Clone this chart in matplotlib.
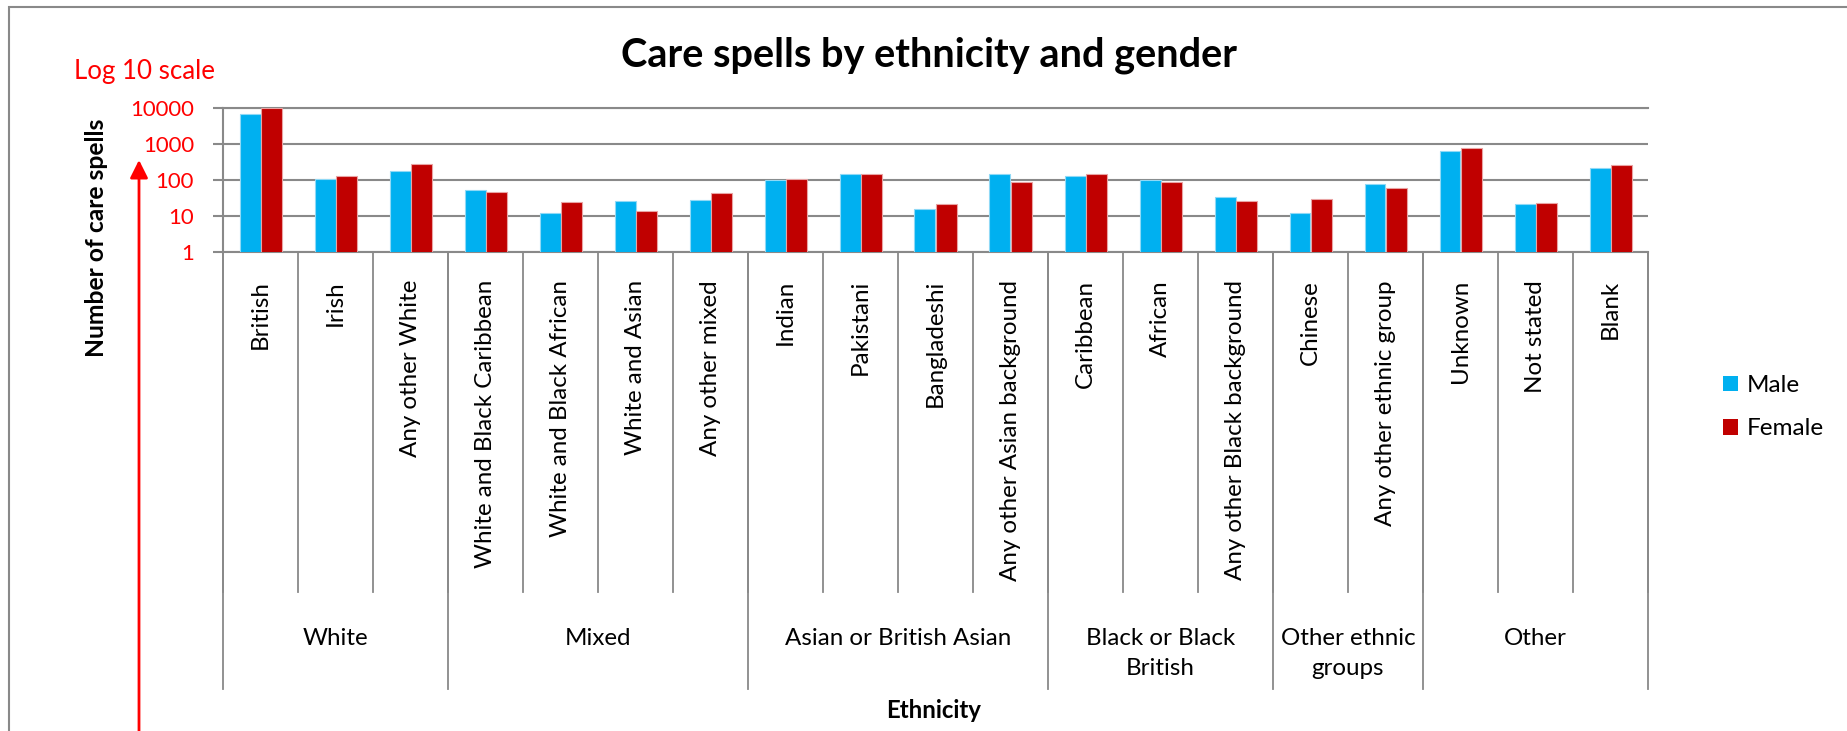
import matplotlib.pyplot as plt
import numpy as np
from matplotlib.patches import Rectangle, Patch

# data (log scale)
categories = ['British', 'Irish', 'Any other White',
              'White and Black Caribbean', 'White and Black African', 'White and Asian', 'Any other mixed',
              'Indian', 'Pakistani', 'Bangladeshi', 'Any other Asian background',
              'Caribbean', 'African', 'Any other Black background',
              'Chinese', 'Any other ethnic group',
              'Unknown', 'Not stated', 'Blank']
male = [6800, 104, 181, 52, 12, 26, 28, 100, 144, 16, 144, 129, 102, 34, 12, 77, 621, 21, 215]
female = [9800, 126, 271, 46, 24, 14, 44, 107, 147, 21, 90, 144, 90, 26, 29, 59, 783, 23, 266]
groups = ['White', 'Mixed', 'Asian or British Asian', 'Black or Black\nBritish', 'Other ethnic\ngroups', 'Other']
group_sizes = [3, 4, 4, 3, 2, 3]

W, H = 1847, 731
blue = '#00B0F0'
red = '#C00000'
grey = '#898989'
plt.rcParams['font.family'] = ['Lato', 'DejaVu Sans']

fig = plt.figure(figsize=(W / 100, H / 100), dpi=100)
# plot area in pixels: x 223..1648, y 108..252
ax = fig.add_axes([223 / W, 1 - 252 / H, 1425 / W, 144 / H])


def ay(py):
    # pixel row -> axes fraction
    return (252 - py) / 144


x = np.arange(len(categories))
bw = 0.28
ax.bar(x - bw / 2, male, bw, color=blue, edgecolor='#8fd9f6', linewidth=0.8, zorder=3)
ax.bar(x + bw / 2, female, bw, color=red, edgecolor='#e9a3a3', linewidth=0.8, zorder=3)
ax.set_yscale('log')
ax.set_ylim(1, 10000)
ax.set_xlim(-0.5, len(categories) - 0.5)

ax.set_yticks([1, 10, 100, 1000, 10000])
ax.set_yticklabels(['1', '10', '100', '1000', '10000'])
ax.yaxis.set_minor_locator(plt.NullLocator())
ax.tick_params(axis='y', length=7, width=1.5, color=grey, pad=14, labelsize=16, labelcolor='red')
ax.set_xticks([])
ax.grid(axis='y', color=grey, linewidth=1.5, zorder=0)
ax.set_axisbelow(True)
for s in ['left', 'bottom', 'top']:
    ax.spines[s].set_color(grey)
    ax.spines[s].set_linewidth(1.5)
ax.spines['right'].set_visible(False)

tr = ax.get_xaxis_transform()
# category labels and separators
cat_texts = []
for i, c in enumerate(categories):
    cat_texts.append(ax.text(i, ay(280), c, rotation=90, ha='center', va='top', fontsize=16, transform=tr))
for b in range(len(categories) + 1):
    ax.plot([b - 0.5, b - 0.5], [0, ay(592)], color=grey, lw=1.3, transform=tr, clip_on=False)

# group labels and separators
edges = np.concatenate([[0], np.cumsum(group_sizes)])
for e in edges:
    ax.plot([e - 0.5, e - 0.5], [0, ay(689)], color=grey, lw=1.3, transform=tr, clip_on=False)
grp_texts = []
for g, a, b in zip(groups, edges[:-1], edges[1:]):
    grp_texts.append(ax.text((a + b - 1) / 2, ay(628), g, ha='center', va='top', fontsize=16,
                             linespacing=1.55, transform=tr))

title = fig.text(929 / W, 1 - 55 / H, 'Care spells by ethnicity and gender', ha='center', va='center',
                 fontsize=24, fontweight='bold')
xlab = fig.text(934 / W, 1 - 710 / H, 'Ethnicity', ha='center', va='center', fontsize=15, fontweight='bold')
ylab = fig.text(96 / W, 1 - 238 / H, 'Number of care spells', ha='center', va='center', rotation=90,
                fontsize=16, fontweight='bold')
logt = fig.text(145 / W, 1 - 72 / H, 'Log 10 scale', ha='center', va='center', fontsize=17, color='red')

# red arrow pointing up along the y axis
ax.annotate('', xy=(139, H - 160), xytext=(139, -10), xycoords='figure pixels',
            textcoords='figure pixels',
            arrowprops=dict(arrowstyle='-|>,head_length=0.6,head_width=0.3', color='red',
                            lw=2, mutation_scale=18, shrinkA=0, shrinkB=0))

handles = [Patch(facecolor=blue, label='Male'), Patch(facecolor=red, label='Female')]
leg = fig.legend(handles=handles, loc='center left', bbox_to_anchor=(1723 / W, 1 - 407 / H),
                 frameon=False, fontsize=17, handlelength=0.64, handleheight=0.64,
                 handletextpad=0.35, labelspacing=0.95, borderpad=0, borderaxespad=0)

# outer chart border, cut by the image edge
fig.add_artist(Rectangle((9 / W, -0.2), 2, 1 - 7 / H + 0.2, transform=fig.transFigure,
                         fill=False, edgecolor=grey, lw=1.5))

# size the Lato text so it takes the same room as the Calibri text of the original
fig.canvas.draw()
r = fig.canvas.get_renderer()


def scale(t, target, vertical=False):
    bb = t.get_window_extent(r)
    return target / (bb.height if vertical else bb.width)


title.set_fontsize(title.get_fontsize() * scale(title, 618))
xlab.set_fontsize(xlab.get_fontsize() * scale(xlab, 95))
ylab.set_fontsize(ylab.get_fontsize() * scale(ylab, 239, vertical=True))
logt.set_fontsize(logt.get_fontsize() * scale(logt, 141))
k = scale(cat_texts[categories.index('Any other Asian background')], 303, vertical=True)
for t in cat_texts:
    t.set_fontsize(t.get_fontsize() * k)
k = scale(grp_texts[2], 227)
for t in grp_texts:
    t.set_fontsize(t.get_fontsize() * k)
k = scale(ax.get_yticklabels()[-1], 64)
ax.tick_params(axis='y', labelsize=16 * k)
k = scale(leg.get_texts()[1], 77)
for t in leg.get_texts():
    t.set_fontsize(t.get_fontsize() * k)

fig.savefig('out.png', dpi=100)
